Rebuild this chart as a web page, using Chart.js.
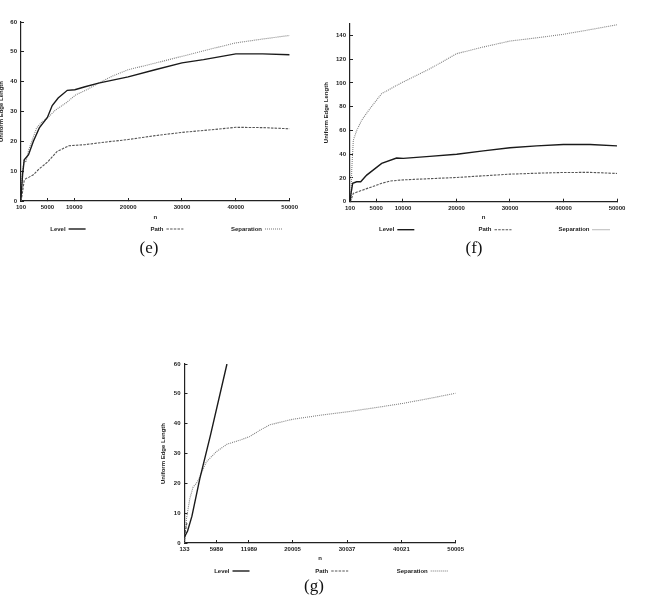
<!DOCTYPE html>
<html>
<head>
<meta charset="utf-8">
<script src="https://cdn.jsdelivr.net/npm/chart.js@4"></script>
<style>
body{margin:0;background:#fff;width:648px;height:597px;overflow:hidden;position:relative}
canvas{position:absolute}
.cap{position:absolute;font-family:'Liberation Serif','Times New Roman',serif;font-size:17px;line-height:17px;color:#111;transform:translateX(-50%)}
</style>
</head>
<body>
<canvas id="graf_e" width="310" height="240" style="left:-6px;top:0px"></canvas>
<canvas id="graf_f" width="320" height="240" style="left:320px;top:0px"></canvas>
<canvas id="graf_g" width="320" height="245" style="left:150px;top:340px"></canvas>
<div class="cap" style="left:149px;top:239px">(e)</div>
<div class="cap" style="left:474px;top:239px">(f)</div>
<div class="cap" style="left:314px;top:577px">(g)</div>
<script>
// (e)
const n_level_e = [100, 400, 700, 1500, 2400, 3500, 5000, 5900, 7000, 8700, 10100, 12000, 14500, 20000, 25000, 30000, 34000, 40000, 45000, 50000]
const level_e = [1, 9, 13.8, 15.5, 20, 24.5, 28, 32, 34.5, 37.1, 37.3, 38.3, 39.5, 41.6, 44, 46.3, 47.4, 49.3, 49.3, 49]
const n_path_e = [100, 300, 700, 1000, 1600, 2400, 3500, 5000, 6800, 9000, 12000, 16000, 20000, 25000, 30000, 35000, 40000, 45000, 50000]
const path_e = [0, 2, 6.9, 7.5, 8, 8.8, 10.8, 13, 16.6, 18.5, 18.9, 19.8, 20.6, 21.9, 23, 23.8, 24.7, 24.6, 24.2]
const n_sep_e = [100, 300, 700, 1000, 1500, 2200, 3000, 4000, 5000, 6500, 8400, 10300, 12000, 14500, 17000, 20000, 25000, 30000, 35000, 40000, 45000, 50000]
const sep_e = [0, 8, 14, 13, 17, 20.5, 24.5, 26.5, 27.8, 30.5, 32.8, 35.6, 37, 39.5, 41.8, 44, 46.2, 48.5, 50.8, 53, 54.3, 55.5]

// (f)
const n_level_f = [100, 290, 600, 1350, 2100, 3220, 6020, 8800, 10060, 15000, 20040, 25020, 30000, 34990, 39970, 44960, 50000]
const level_f = [0, 7, 15.5, 16.8, 16.8, 22.4, 32.3, 36.8, 36.5, 38.2, 40, 42.8, 45.4, 47, 48.2, 48.2, 47]
const n_path_f = [100, 290, 720, 1650, 3220, 4500, 6020, 7500, 9450, 12000, 16000, 20040, 25000, 30000, 35000, 39970, 44960, 50000]
const path_f = [0, 1.4, 7, 8.5, 11, 13, 15.5, 17.3, 18.2, 18.8, 19.6, 20.4, 21.8, 23.2, 24, 24.6, 24.7, 23.8]
const n_sep_f = [100, 290, 420, 720, 1350, 2290, 3840, 6020, 9450, 15050, 20040, 25020, 30000, 34990, 39970, 44960, 50000]
const sep_f = [0, 1.4, 26.6, 51.8, 60, 68.7, 78.5, 91, 99.5, 112, 124.7, 130.3, 135.3, 138, 141, 144.9, 149]

// (g)
const n_level_g = [133, 700, 1500, 2940, 4890, 7940]
const level_g = [2, 4, 9, 21.5, 36, 60]
const n_path_g = [133, 300, 600]
const path_g = [1, 4, 7]
const n_sep_g = [133, 500, 1110, 1720, 2330, 2940, 4150, 5980, 7940, 10380, 12140, 14000, 15800, 18000, 20100, 25000, 30170, 35000, 40300, 45000, 50005]
const sep_g = [0, 8.2, 14.9, 18.8, 20, 22.2, 27.2, 30.6, 33.1, 34.5, 35.7, 37.8, 39.6, 40.6, 41.5, 42.8, 44, 45.3, 46.8, 48.4, 50.2]

const xticks_ef = [100, 5000, 10000, 20000, 30000, 40000, 50000]
const xticks_g = [133, 5989, 11989, 20005, 30037, 40021, 50005]
const series = ['Level', 'Path', 'Separation']

const fonte = {family: "'Liberation Sans', Arial, sans-serif", size: 6, weight: 'bold'}
const cor = '#222'
const pos_legenda = [0.166, 0.53, 0.897]

const legenda = {
    id: 'legenda',
    afterDraw(chart) {
        const ctx = chart.ctx
        const area = chart.chartArea
        const y = area.bottom + 28
        ctx.save()
        ctx.font = "bold 6px 'Liberation Sans', Arial, sans-serif"
        ctx.textBaseline = 'middle'
        ctx.textAlign = 'right'
        chart.data.datasets.forEach(function(ds, i){
            const x = area.left + area.width * pos_legenda[i]
            ctx.fillStyle = cor
            ctx.fillText(ds.label, x, y)
            ctx.strokeStyle = ds.borderColor
            ctx.lineWidth = ds.borderWidth
            ctx.setLineDash(ds.borderDash || [])
            ctx.beginPath()
            ctx.moveTo(x + 3, y)
            ctx.lineTo(x + 20, y)
            ctx.stroke()
        })
        ctx.restore()
    }
}

function pontos(ns, vs){
    return ns.map(function(n, i){ return {x: n, y: vs[i]} })
}

function grafico(id, d){
    const data = {
        datasets: [{
            label: series[0],
            data: pontos(d.nl, d.l),
            borderColor: '#1a1a1a',
            borderWidth: 1.4,
            order: 0
        }, {
            label: series[1],
            data: pontos(d.np, d.p),
            borderColor: '#555',
            borderWidth: 1.1,
            borderDash: [2.5, 1.2],
            order: 1
        }, {
            label: series[2],
            data: pontos(d.ns, d.s),
            borderColor: '#808080',
            borderWidth: 1.1,
            borderDash: [1, 1],
            order: 2
        }]
    }

    const config = {
        type: 'line',
        data: data,
        options: {
            responsive: false,
            animation: false,
            layout: {padding: {left: d.pl, top: d.pt, right: d.pr, bottom: 0}},
            elements: {point: {radius: 0}, line: {tension: 0, fill: false}},
            plugins: {legend: {display: false}, tooltip: {enabled: false}},
            scales: {
                x: {
                    type: 'linear',
                    min: d.xmin,
                    max: d.xmax,
                    afterBuildTicks: function(s){ s.ticks = d.xt.map(function(v){ return {value: v} }) },
                    afterFit: function(s){ s.height = d.hx },
                    ticks: {font: fonte, color: cor, padding: 6, maxRotation: 0, autoSkip: false,
                        callback: function(v){ return String(v) }},
                    grid: {drawOnChartArea: false, tickLength: -3, color: cor},
                    border: {color: cor, width: 1.2},
                    title: {display: true, text: 'n', font: fonte, color: cor, padding: {top: 0, bottom: d.tb}}
                },
                y: {
                    min: 0,
                    max: d.ymax,
                    afterFit: function(s){ s.width = d.yw },
                    ticks: {font: fonte, color: cor, padding: 7, stepSize: d.step, includeBounds: false},
                    grid: {drawOnChartArea: false, tickLength: -3, color: cor},
                    border: {color: cor, width: 1.2},
                    title: {display: true, text: 'Uniform Edge Length', font: fonte, color: cor, padding: 0}
                }
            }
        },
        plugins: [legenda]
    }

    const myChart = new Chart(document.getElementById(id), config)
}

grafico('graf_e', {nl: n_level_e, l: level_e, np: n_path_e, p: path_e, ns: n_sep_e, s: sep_e,
    xmin: 100, xmax: 50000, xt: xticks_ef, ymax: 60, step: 10,
    pl: 3.4, pt: 22, pr: 11.3, hx: 39, yw: 23.6, tb: 19.4})

grafico('graf_f', {nl: n_level_f, l: level_f, np: n_path_f, p: path_f, ns: n_sep_f, s: sep_f,
    xmin: 100, xmax: 50000, xt: xticks_ef, ymax: 150, step: 20,
    pl: 2.4, pt: 23.6, pr: 23, hx: 38.3, yw: 27.6, tb: 19.4})

grafico('graf_g', {nl: n_level_g, l: level_g, np: n_path_g, p: path_g, ns: n_sep_g, s: sep_g,
    xmin: 133, xmax: 50005, xt: xticks_g, ymax: 60, step: 10,
    pl: 9.9, pt: 24, pr: 14, hx: 42, yw: 24.6, tb: 23.4})
</script>
</body>
</html>
